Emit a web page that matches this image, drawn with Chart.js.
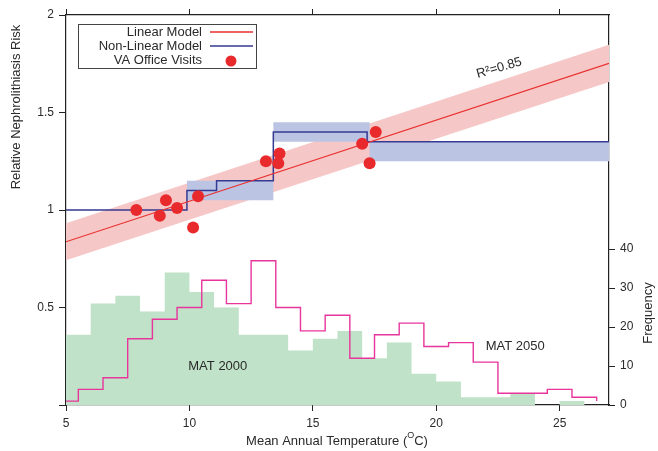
<!DOCTYPE html>
<html lang="en">
<head>
<meta charset="UTF-8">
<title>Nephrolithiasis risk and mean annual temperature</title>
<script src="https://cdn.jsdelivr.net/npm/chart.js"></script>
<style>
  html, body { margin: 0; padding: 0; background: #fff; }
  #wrap { width: 658px; height: 451px; }
</style>
</head>
<body>
<div id="wrap"><canvas id="chart" width="658" height="451"></canvas></div>
<script>
// VA office visits (temperature, relative risk)
const visitTemp = [7.85, 8.8, 9.05, 9.5, 10.15, 10.35, 13.1, 13.65, 13.6, 17.0, 17.55, 17.3];
const visitRisk = [1.00, 0.97, 1.05, 1.01, 0.91, 1.07, 1.25, 1.29, 1.24, 1.34, 1.40, 1.24];

// linear model and its band
const linTemp = [5, 27];
const linRisk = [0.837, 1.752];
const linHalfWidth = 0.095;

// non-linear (step) model
const stepTemp = [5, 9.9, 11.1, 13.4, 17.2, 27];
const stepRisk = [1.0, 1.1, 1.15, 1.40, 1.35, 1.35];
const boxTemp = [9.9, 13.4, 17.3, 27];
const boxLow  = [1.05, 1.35, 1.25, 1.25];
const boxHigh = [1.15, 1.45, 1.35, 1.35];

// temperature histograms (bin left edges, counts)
const mat2000Edges  = [5, 6, 7, 8, 9, 10, 11, 12, 13, 14, 15, 16, 17, 18, 19, 20, 21, 22, 23, 24, 25, 26, 27];
const mat2000Counts = [18, 26, 28, 24, 34, 29, 25, 18, 18, 14, 17, 19, 12, 16, 8, 6, 2, 2, 3, 0, 1, 0, 0];
const mat2050Edges  = [5, 5.5, 6.5, 7.5, 8.5, 9.5, 10.5, 11.5, 12.5, 13.5, 14.5, 15.5, 16.5, 17.5, 18.5, 19.5, 20.5, 21.5, 22.5, 23.5, 24.5, 25.5, 26.5];
const mat2050Counts = [1, 4, 7, 17, 22, 25, 32, 26, 37, 25, 19, 23, 12, 18, 21, 15, 16, 11, 3, 3, 4, 2, 1];

const xTicks = [5, 10, 15, 20, 25];
const freqTicks = [0, 10, 20, 30, 40];

const pts = (xs, ys) => xs.map((x, i) => ({ x: x, y: ys[i] }));
const FONT = "'Liberation Sans', Arial, sans-serif";
const INK = '#2a2a2a';

const overlay = {
  id: 'overlay',
  afterDraw(chart) {
    const ctx = chart.ctx;
    const sx = chart.scales.x, sy = chart.scales.y, sf = chart.scales.y2;
    ctx.save();
    ctx.fillStyle = INK;
    ctx.font = '13px ' + FONT;

    // histogram labels
    ctx.textAlign = 'center';
    ctx.textBaseline = 'middle';
    ctx.fillText('MAT 2000', sx.getPixelForValue(11.15), sf.getPixelForValue(9.8));
    ctx.fillText('MAT 2050', sx.getPixelForValue(23.2), sf.getPixelForValue(15));

    // R^2 label along the linear fit
    ctx.save();
    ctx.translate(sx.getPixelForValue(22.55), sy.getPixelForValue(1.728));
    ctx.rotate(-16 * Math.PI / 180);
    ctx.fillText('R\u00B2=0.85', 0, 0);
    ctx.restore();

    // axis titles
    ctx.save();
    ctx.translate(16, 107);
    ctx.rotate(-Math.PI / 2);
    ctx.fillText('Relative Nephrolithiasis Risk', 0, 0);
    ctx.restore();
    ctx.save();
    ctx.translate(648, 313);
    ctx.rotate(-Math.PI / 2);
    ctx.fillText('Frequency', 0, 0);
    ctx.restore();

    const t1 = 'Mean Annual Temperature (', t2 = 'O', t3 = 'C)';
    ctx.font = '13px ' + FONT;
    const w1 = ctx.measureText(t1).width, w3 = ctx.measureText(t3).width;
    ctx.font = '9px ' + FONT;
    const w2 = ctx.measureText(t2).width;
    let x0 = 337 - (w1 + w2 + w3) / 2;
    ctx.textAlign = 'left';
    ctx.font = '13px ' + FONT;
    ctx.fillText(t1, x0, 441);
    ctx.font = '9px ' + FONT;
    ctx.fillText(t2, x0 + w1, 436);
    ctx.font = '13px ' + FONT;
    ctx.fillText(t3, x0 + w1 + w2, 441);

    // legend
    ctx.fillStyle = '#fff';
    ctx.fillRect(78.5, 24.5, 178, 44);
    ctx.strokeStyle = '#444';
    ctx.lineWidth = 1;
    ctx.strokeRect(78.5, 24.5, 178, 44);
    ctx.fillStyle = INK;
    ctx.textAlign = 'right';
    const rows = [['Linear Model', 32], ['Non-Linear Model', 46], ['VA Office Visits', 60]];
    rows.forEach(r => ctx.fillText(r[0], 202, r[1]));
    ctx.lineWidth = 1.3;
    ctx.strokeStyle = '#e8302e';
    ctx.beginPath(); ctx.moveTo(210, 32); ctx.lineTo(253, 32); ctx.stroke();
    ctx.strokeStyle = '#343a92';
    ctx.beginPath(); ctx.moveTo(210, 46); ctx.lineTo(253, 46); ctx.stroke();
    ctx.fillStyle = '#e92a2c';
    ctx.beginPath(); ctx.arc(231, 61, 5.5, 0, Math.PI * 2); ctx.fill();
    ctx.restore();
  }
};

const axisGrid = { drawOnChartArea: false, drawTicks: true, tickLength: 6, color: '#222', lineWidth: 1 };
const axisBorder = { display: true, color: '#222', width: 1.2 };
const tickFont = { family: FONT, size: 12 };

new Chart(document.getElementById('chart'), {
  type: 'scatter',
  data: {
    datasets: [
      { // VA office visits
        data: pts(visitTemp, visitRisk), yAxisID: 'y', order: 0,
        pointRadius: 6, pointHoverRadius: 6, backgroundColor: '#e92a2c', borderWidth: 0
      },
      { // linear model
        data: pts(linTemp, linRisk), yAxisID: 'y', order: 1, showLine: true,
        borderColor: '#e8302e', borderWidth: 1.2, pointRadius: 0
      },
      { // non-linear model
        data: pts(stepTemp, stepRisk), yAxisID: 'y', order: 2, showLine: true, stepped: true,
        borderColor: '#343a92', borderWidth: 1.5, pointRadius: 0
      },
      { // non-linear model interval, top
        data: pts(boxTemp, boxHigh), yAxisID: 'y', order: 3, showLine: true, stepped: true,
        borderWidth: 0, pointRadius: 0, fill: '+1', backgroundColor: '#bcc4e4'
      },
      { // non-linear model interval, bottom
        data: pts(boxTemp, boxLow), yAxisID: 'y', order: 3, showLine: true, stepped: true,
        borderWidth: 0, pointRadius: 0
      },
      { // linear band, top
        data: pts(linTemp, linRisk.map(v => v + linHalfWidth)), yAxisID: 'y', order: 4, showLine: true,
        borderWidth: 0, pointRadius: 0, fill: '+1', backgroundColor: '#f6c7c7'
      },
      { // linear band, bottom
        data: pts(linTemp, linRisk.map(v => v - linHalfWidth)), yAxisID: 'y', order: 4, showLine: true,
        borderWidth: 0, pointRadius: 0
      },
      { // MAT 2050
        data: pts(mat2050Edges, mat2050Counts), yAxisID: 'y2', order: 5, showLine: true, stepped: true,
        borderColor: '#e8359c', borderWidth: 1.4, pointRadius: 0
      },
      { // MAT 2000
        data: pts(mat2000Edges, mat2000Counts), yAxisID: 'y2', order: 6, showLine: true, stepped: true,
        borderWidth: 0, pointRadius: 0, fill: 'origin', backgroundColor: '#c0e2c8'
      }
    ]
  },
  options: {
    responsive: false,
    animation: false,
    layout: { padding: 0 },
    plugins: { legend: { display: false }, tooltip: { enabled: false } },
    scales: {
      x: {
        type: 'linear', position: 'bottom', min: 5, max: 27,
        afterBuildTicks: s => { s.ticks = xTicks.map(v => ({ value: v })); },
        ticks: { color: INK, font: tickFont, padding: 5, maxRotation: 0 },
        grid: axisGrid, border: axisBorder,
        afterFit: s => { s.height = 46; }
      },
      xTop: {
        type: 'linear', axis: 'x', position: 'top', min: 5, max: 27,
        afterBuildTicks: s => { s.ticks = xTicks.map(v => ({ value: v })); },
        ticks: { callback: () => '', padding: 0 },
        grid: axisGrid, border: axisBorder,
        afterFit: s => { s.height = 15; }
      },
      y: {
        type: 'linear', position: 'left', min: 0, max: 2,
        ticks: { stepSize: 0.5, color: INK, font: tickFont, padding: 5, callback: v => v === 0 ? '' : v },
        grid: Object.assign({}, axisGrid, { tickLength: 7 }), border: axisBorder,
        afterFit: s => { s.width = 66; }
      },
      y2: {
        type: 'linear', position: 'right', min: 0, max: 100,
        afterBuildTicks: s => { s.ticks = freqTicks.map(v => ({ value: v })); },
        ticks: { color: INK, font: tickFont, padding: 5 },
        grid: axisGrid, border: axisBorder,
        afterFit: s => { s.width = 49; }
      }
    }
  },
  plugins: [overlay]
});
</script>
</body>
</html>
